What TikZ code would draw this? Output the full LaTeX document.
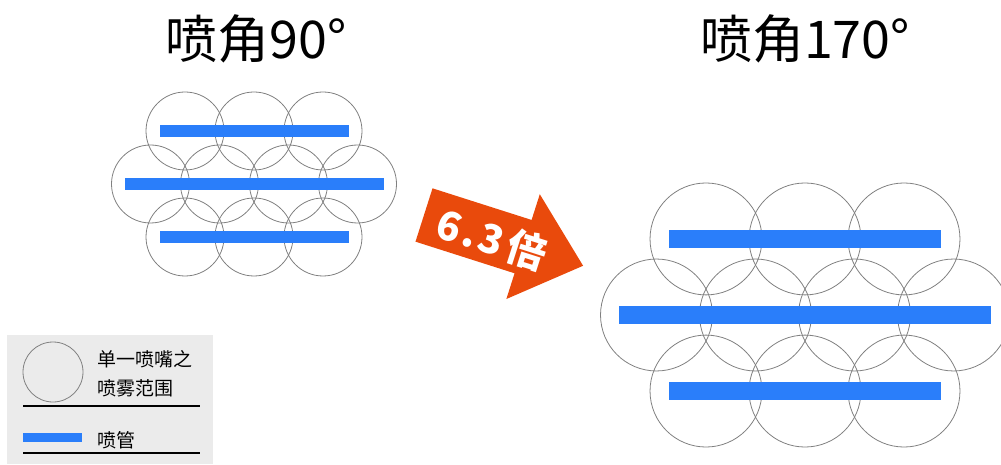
\documentclass[tikz,border=0pt]{standalone}
\usepackage{fontspec}
\newfontfamily\cjk{Noto Sans CJK SC}
\definecolor{pipeblue}{RGB}{42,126,250}
\definecolor{arroworange}{RGB}{233,74,12}
\definecolor{legendgray}{RGB}{235,235,235}
\tikzset{
    spray/.style={draw=black!50, line width=0.8pt},
    pipe/.style={fill=pipeblue},
    title/.style={font=\cjk\fontsize{52}{52}\selectfont, inner sep=0pt},
    legendtext/.style={font=\cjk\fontsize{19}{24}\selectfont, inner sep=0pt, anchor=west},
}

\begin{document}
\begin{tikzpicture}[x=1pt,y=1pt]
    \useasboundingbox (0,0) rectangle (1001,464);
    \clip (0,0) rectangle (1001,464);
    % two spray fields, 90 and 170 degrees
    \foreach \cx/\cy/\s in {254/280/1, 805/149/1.435} {
        \begin{scope}[shift={(\cx,\cy)}, scale=\s]
            \foreach \dx in {-69,0,69} {
                \draw[spray] (\dx,53) circle (39);
                \draw[spray] (\dx,-53) circle (39);
            }
            \foreach \dx in {-103.5,-34.5,34.5,103.5}
                \draw[spray] (\dx,0) circle (39);
            \fill[pipe] (-94.5,47) rectangle (94.5,59);
            \fill[pipe] (-129.5,-6) rectangle (129.5,6);
            \fill[pipe] (-94.5,-59) rectangle (94.5,-47);
        \end{scope}
    }
    \node[title] (title90) at (256,425) {喷角90°};
    \node[title] (title170) at (805,425) {喷角170°};
    % arrow
    \begin{scope}[shift={(424,249)}, rotate=-17.7]
        \fill[arroworange] (0,28) -- (104,28) -- (104,55) -- (167,0)
            -- (104,-55) -- (104,-28) -- (0,-28) -- cycle;
        \node[rotate=-17.7, text=white, inner sep=0pt,
              font=\cjk\bfseries\fontsize{40}{40}\selectfont]
            (ratio) at (72,-2) {6\kern3pt.\kern3pt3\kern5pt倍};
    \end{scope}
    % legend
    \fill[legendgray] (7,0) rectangle (213,129);
    \draw[spray] (53,92) circle (30);
    \node[legendtext] (legendSprayA) at (97,105) {单一喷嘴之};
    \node[legendtext] (legendSprayB) at (97,76) {喷雾范围};
    \draw[line width=1.5pt] (23,58) -- (200,58);
    \fill[pipe] (23,22) rectangle (82,31);
    \node[legendtext] (legendPipe) at (97,24) {喷管};
    \draw[line width=1.5pt] (23,11) -- (200,11);
\end{tikzpicture}
\end{document}
